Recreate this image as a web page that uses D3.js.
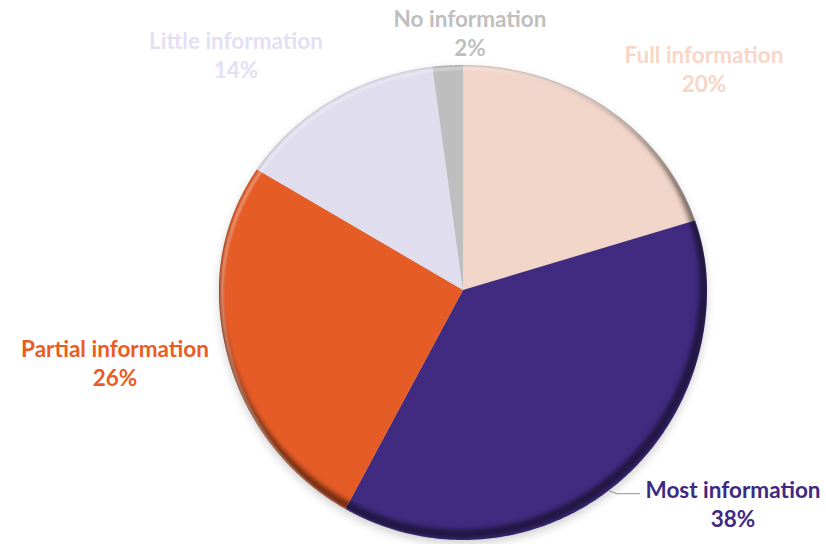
<!DOCTYPE html>
<html>
<head>
<meta charset="utf-8">
<script src="https://cdn.jsdelivr.net/npm/d3@7"></script>
<style>
  html, body { margin: 0; padding: 0; background: #fff; }
  svg { display: block; }
  text { font-family: Lato, "Open Sans", sans-serif; font-weight: bold; }
</style>
</head>
<body>
<svg id="chart" width="826" height="544"></svg>
<script>
// data, clockwise from 12 o'clock
var categories = ["Full information", "Most information", "Partial information", "Little information", "No information"];
var shares = [20, 38, 26, 14, 2];
var sliceColors = ["#F1D5C9", "#412B81", "#E65C27", "#E0DDEE", "#BEBEBE"];
var labelColors = ["#F8D6C8", "#3E2A84", "#EA5C24", "#E4E0F4", "#BFBFBF"];

// layout: where each label block sits (centre x, first baseline)
var labelAt = [[704, 63], [733, 498], [115, 357], [236, 49], [470, 27]];

var svg = d3.select("#chart");

// the pie is slightly tilted: the far (top) half looks shorter than the near half
var apex = [463, 290];
var rx = 244, ryTop = 225, ryBottom = 250;

// point on the rim at angle a (0 = up, clockwise)
function rim(a) {
  var c = Math.cos(a);
  return [apex[0] + rx * Math.sin(a), apex[1] - c * (c > 0 ? ryTop : ryBottom)];
}

var pie = d3.pie().sort(null).value(function(d) { return d; });
var arcs = pie(shares);
var color = d3.scaleOrdinal().domain(categories).range(sliceColors);
var line = d3.line();

function rimPoints(a0, a1) {
  var pts = [];
  var n = Math.max(2, Math.ceil((a1 - a0) / 0.01));
  for (var i = 0; i <= n; i++) pts.push(rim(a0 + (a1 - a0) * i / n));
  return pts;
}

function slicePath(d) {
  return line([apex].concat(rimPoints(d.startAngle, d.endAngle))) + "Z";
}
var outline = line(rimPoints(0, 2 * Math.PI)) + "Z";

var defs = svg.append("defs");
[["blur6", 5], ["blur3", 2.5], ["blur1", 1]].forEach(function(f) {
  defs.append("filter").attr("id", f[0]).attr("x", "-20%").attr("y", "-20%").attr("width", "140%").attr("height", "140%")
    .append("feGaussianBlur").attr("stdDeviation", f[1]);
});
defs.append("clipPath").attr("id", "pieClip").append("path").attr("d", outline);

// soft shadow under the pie
svg.append("path")
  .attr("d", outline)
  .attr("transform", "translate(0,4)")
  .attr("fill", "#000").attr("opacity", 0.18).attr("filter", "url(#blur6)");

// slices
svg.append("g").selectAll("path")
  .data(arcs)
  .enter()
  .append("path")
  .attr("d", slicePath)
  .attr("fill", function(d, i) { return color(categories[i]); });

// bevel: dark bottom-right rim, light top-left rim
var bevel = svg.append("g").attr("clip-path", "url(#pieClip)");
bevel.append("path")
  .attr("d", outline).attr("transform", "translate(-3,-6)")
  .attr("fill", "none").attr("stroke", "#000").attr("stroke-width", 9)
  .attr("opacity", 0.5).attr("filter", "url(#blur3)");
bevel.append("path")
  .attr("d", outline).attr("transform", "translate(3,3)")
  .attr("fill", "none").attr("stroke", "#fff").attr("stroke-width", 3)
  .attr("opacity", 0.35).attr("filter", "url(#blur1)");

// leader line for the "Most information" label
var lp = rim(143.4 * Math.PI / 180);
svg.append("path")
  .attr("d", line([lp, [lp[0] + 8, lp[1] + 3], [640, lp[1] + 3]]))
  .attr("fill", "none").attr("stroke", "#A6A6A6").attr("stroke-width", 1.3);

// labels
var labels = svg.append("g").selectAll("text")
  .data(arcs)
  .enter()
  .append("text")
  .attr("text-anchor", "middle")
  .attr("font-size", 22.5)
  .attr("fill", function(d, i) { return labelColors[i]; });

labels.append("tspan")
  .attr("x", function(d, i) { return labelAt[i][0]; })
  .attr("y", function(d, i) { return labelAt[i][1]; })
  .text(function(d, i) { return categories[i]; });
labels.append("tspan")
  .attr("x", function(d, i) { return labelAt[i][0]; })
  .attr("y", function(d, i) { return labelAt[i][1] + 29; })
  .text(function(d) { return d.data + "%"; });
</script>
</body>
</html>
